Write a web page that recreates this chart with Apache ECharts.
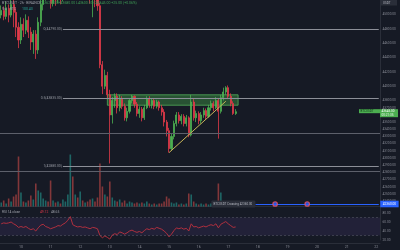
<!DOCTYPE html>
<html><head><meta charset="utf-8">
<script src="https://cdn.jsdelivr.net/npm/echarts@6/dist/echarts.min.js"></script>
<style>html,body{margin:0;padding:0;background:#161a25;}#c{width:400px;height:250px;}</style>
</head><body><div id="c"></div><script>
// ---- data ----
const dayLabels = ['10','11','12','13','14','15','16','17','18','19','20','21','22'];
const priceTicks = { min: 42300, max: 45200, step: 100 };
// [open, close, low, high]
const ohlc = [
[44990,45055,44945,45124],[45055,44972,44918,45110],[44972,45083,44931,45180],[45083,44990,44890,45138],
[44990,45138,44959,45235],[45138,45028,44821,45205],[45028,44821,44684,45096],[44821,44643,44530,44890],
[44643,44862,44588,44959],[44862,44780,44684,44945],[44780,44918,44725,45000],[44918,44753,44670,44972],
[44753,44615,44505,44821],[44615,44725,44450,44780],[44725,44505,44380,44780],[44505,44890,44450,44959],
[44890,45138,44835,45300],[45138,45275,45055,45370],[45275,45370,45190,45467],[45370,45300,45220,45420],
[45300,45150,45080,45340],[45150,45230,45110,45280],[45230,45200,45120,45290],[45200,45260,45150,45310],
[45260,45220,45140,45300],[45220,45300,45180,45350],[45300,45380,45260,45420],[45380,45520,45350,45580],
[45520,45750,45480,45850],[45750,45450,45380,45800],[45450,45500,45400,45560],[45500,45420,45360,45540],
[45420,45460,45380,45500],[45460,45400,45350,45490],[45400,45440,45330,45480],[45440,45380,45320,45470],
[45380,45300,45150,45400],[45300,45330,44960,45380],[45330,45250,45100,45350],[45250,45120,45050,45300],
[45120,44300,44250,45160],[44300,44000,43890,44350],[44000,44150,43960,44230],[44150,43880,43820,44200],
[43880,43600,42924,43950],[43600,43800,43480,43850],[43800,43860,43700,43900],[43860,43700,43620,43900],
[43700,43830,43650,43880],[43830,43720,43680,43860],[43720,43560,43520,43760],[43560,43650,43510,43700],
[43650,43800,43620,43830],[43800,43860,43760,43880],[43860,43750,43700,43870],[43750,43620,43580,43780],
[43620,43680,43560,43720],[43680,43560,43510,43710],[43560,43700,43530,43740],[43700,43820,43680,43860],
[43820,43740,43700,43860],[43740,43800,43690,43830],[43800,43720,43680,43830],[43720,43780,43690,43810],
[43780,43700,43660,43800],[43700,43640,43590,43740],[43640,43500,43440,43680],[43500,43380,43300,43530],
[43380,43130,43075,43420],[43130,43300,43100,43340],[43300,43480,43260,43520],[43480,43600,43440,43640],
[43600,43520,43480,43640],[43520,43580,43470,43610],[43580,43480,43440,43610],[43480,43560,43440,43600],
[43560,43320,43290,43580],[43320,43780,43300,43880],[43780,43560,43520,43830],[43560,43620,43500,43660],
[43620,43520,43470,43650],[43520,43600,43480,43640],[43600,43660,43560,43700],[43660,43580,43540,43690],
[43580,43700,43560,43740],[43700,43760,43660,43800],[43760,43700,43650,43790],[43700,43800,43680,43850],
[43800,43650,43270,43830],[43650,43840,43620,43880],[43840,43920,43800,43980],[43920,43980,43880,44000],
[43980,43860,43820,44010],[43860,43760,43720,43900],[43760,43620,43600,43790],[43620,43645,43600,43680]
];
const volumes = [
200,300,150,400,250,500,600,2500,700,250,200,300,550,350,1150,800,
700,400,300,250,1300,300,200,250,150,350,250,600,2600,1500,600,450,
750,300,200,250,350,400,250,450,2150,1000,600,500,1250,450,300,250,
350,200,300,150,250,200,150,200,150,200,150,250,150,100,150,100,
150,150,250,500,400,200,150,200,100,150,100,150,650,600,250,150,
100,150,100,150,100,150,100,200,1150,700,200,150,150,100,150,100
];
const rsi = [
56,58,57,58,60,56,53,48,50,48,50,46,43,45,40,47,
53,55,50,48,45,47,49,52,51,55,58,64,72,54,51,49,
50,48,49,47,45,48,47,45,30,25,29,26,22,31,34,32,
38,36,33,36,40,42,39,37,39,36,41,45,43,46,44,48,
46,44,40,35,27,33,41,47,45,47,44,46,40,56,49,50,
47,49,51,49,52,54,52,56,47,55,58,61,56,52,48,49
];
const fibLevels = [ {name:'0', price:44790}, {name:'0.5', price:43835}, {name:'1', price:42880} ];
const fibStartSlot = 25;
const hLines = [43350, 42810];
const zone = { fromSlot:43, toSlot:96, top:43880, bottom:43735 };
const trend = { fromSlot:68, fromPrice:43075, toSlot:91, toPrice:43790 };
const alertPrice = 42360, alertStartSlot = 103, alertSlots = [99,111,124];
const rsiBand = [70, 30];
const rsiLabels = [20,40,60,80];

// ---- categories (2h slots) ----
const N_SLOTS = 154, FIRST_DAY_SLOT = 8, SLOTS_PER_DAY = 12;
const categories = [];
for (let i=0;i<N_SLOTS;i++){
  const h=(i-FIRST_DAY_SLOT)*2; const d=Math.floor(h/24); const hh=((h%24)+24)%24;
  categories.push((d>=0?dayLabels[d]:'9')+' '+String(hh).padStart(2,'0')+':00');
}
const UP='#4caf50', DOWN='#e03a49', AX='#2a2e39', TXT='#868993';
const F='Roboto';
const chart = echarts.init(document.getElementById('c'), null, {renderer:'canvas'});
const lastIdx = ohlc.length-1;
const volData = volumes.map((v,i)=>({value:v,itemStyle:{color: ohlc[i][1]>=ohlc[i][0]?'rgba(38,166,154,0.55)':'rgba(239,83,80,0.5)'}}));

const fibLines = fibLevels.map(f=>[
  {coord:[categories[fibStartSlot], f.price], lineStyle:{color:'#8c8f98',width:1,type:'solid'},
   label:{show:true,position:'start',distance:1,formatter:f.name+'('+f.price.toFixed(2)+')',color:'#9598a1',fontSize:3.4,fontFamily:F}},
  {coord:[categories[N_SLOTS-1], f.price]}
]);
const option = {
  animation:false,
  backgroundColor:'#161a25',
  grid:[
    {left:0,right:20,top:-2.5,height:210.8},
    {left:0,right:20,top:140,height:66.5},
    {left:0,right:20,top:208.5,height:31.5}
  ],
  xAxis:[
    {type:'category',gridIndex:0,data:categories,boundaryGap:true,axisLine:{show:false},axisTick:{show:false},axisLabel:{show:false},splitLine:{show:false}},
    {type:'category',gridIndex:1,data:categories,boundaryGap:true,axisLine:{show:true,lineStyle:{color:AX}},axisTick:{show:false},axisLabel:{show:false}},
    {type:'category',gridIndex:2,data:categories,boundaryGap:true,offset:3,axisLine:{show:true,lineStyle:{color:AX}},axisTick:{show:false},
     axisLabel:{show:true,color:TXT,fontSize:3.6,fontFamily:F,margin:2.5,
       interval:(idx)=>idx>=FIRST_DAY_SLOT && (idx-FIRST_DAY_SLOT)%SLOTS_PER_DAY===0,
       formatter:(v)=>v.split(' ')[0]}}
  ],
  yAxis:[
    {type:'value',gridIndex:0,position:'right',min:priceTicks.min,max:priceTicks.max,interval:priceTicks.step,
     splitLine:{show:false},axisTick:{show:false},axisLine:{show:true,lineStyle:{color:AX}},
     axisLabel:{color:TXT,fontSize:3.2,fontFamily:F,margin:2.5,
       formatter:(v)=>{ if(v>=44999+200||v<=priceTicks.min) return ''; if(v>43800 && v%200!==0) return ''; return v.toFixed(2);} }},
    {type:'value',gridIndex:1,min:0,max:3325,show:false},
    {type:'value',gridIndex:2,position:'right',min:20,max:90,interval:10,splitLine:{show:false},axisTick:{show:false},
     axisLine:{show:true,lineStyle:{color:AX}},
     axisLabel:{color:TXT,fontSize:3.2,fontFamily:F,margin:2.5,formatter:(v)=>rsiLabels.includes(v)?v.toFixed(2):''}}
  ],
  series:[
    {type:'candlestick',xAxisIndex:0,yAxisIndex:0,data:ohlc,barWidth:1.6,z:3,clip:true,
     itemStyle:{color:UP,color0:DOWN,borderColor:UP,borderColor0:DOWN,borderWidth:0.8},
     markArea:{silent:true,data:[[
       {coord:[categories[zone.fromSlot],zone.top],itemStyle:{color:'rgba(67,160,71,0.42)',borderColor:'rgba(90,190,95,0.7)',borderWidth:1}},
       {coord:[categories[zone.toSlot],zone.bottom]}]]},
     markLine:{silent:true,symbol:['none','none'],animation:false,
       data:[
         ...fibLines,
         ...hLines.map(p=>({yAxis:p,lineStyle:{color:'#5d606b',width:1,type:'solid'},label:{show:false}})),
         [{coord:[categories[trend.fromSlot],trend.fromPrice],lineStyle:{color:'#c8b55a',width:1,type:'solid'},label:{show:false}},
          {coord:[categories[trend.toSlot],trend.toPrice]}],
         [{coord:[categories[alertStartSlot],alertPrice],lineStyle:{color:'#2962ff',width:1,type:'solid'},
           label:{show:true,position:'end',distance:1.5,formatter:alertPrice.toFixed(2),color:'#fff',backgroundColor:'#2962ff',fontSize:3.2,fontFamily:F,padding:[1.8,2.5]}},
          {coord:[categories[N_SLOTS-1],alertPrice]}]
       ]}},
    {type:'bar',xAxisIndex:1,yAxisIndex:1,data:volData,barWidth:1.6,z:1},
    {type:'line',xAxisIndex:2,yAxisIndex:2,data:rsi,symbol:'none',lineStyle:{color:'#b0303f',width:1},z:3,
     markArea:{silent:true,data:[[{yAxis:rsiBand[0],itemStyle:{color:'rgba(126,87,194,0.12)'}},{yAxis:rsiBand[1]}]]},
     markLine:{silent:true,symbol:['none','none'],label:{show:false},lineStyle:{color:'#787b86',type:[2,2],width:0.6,opacity:0.6},
       data:rsiBand.map(v=>({yAxis:v}))}},
    {type:'scatter',xAxisIndex:0,yAxisIndex:0,data:alertSlots.map(s=>[categories[s],alertPrice]),symbolSize:4.5,z:6,
     itemStyle:{color:'#2962ff',borderColor:'#f7525f',borderWidth:1.2}}
  ]
};
chart.setOption(option);

const lastClose = ohlc[lastIdx][1];
const lp = chart.convertToPixel({seriesIndex:0},[categories[lastIdx], lastClose]);
const ap = chart.convertToPixel({seriesIndex:0},[categories[alertStartSlot], alertPrice]);
const tiny = (x,y,text,fill,size)=>({type:'text',x:x,y:y,z:20,style:{text:text,fill:fill,font:(size||3.5)+'px '+F,textVerticalAlign:'middle'}});
chart.setOption({graphic:[
  tiny(2,3,'BTCUSDT · 2h · BINANCE  ','#9ea1aa'),
  tiny(40,3,'O43620.00 H43680.00 L43600.00 C43645.00 +25.00 (+0.06%)','#3f9d56'),
  tiny(2,9,'Vol · BTC','#9ea1aa'),
  tiny(22,9,'100.43','#26a69a'),
  tiny(2,212,'RSI 14 close','#9ea1aa',3.3),
  tiny(40,212,'49.12','#e0394a',3.3),
  tiny(51,212,'48.65','#9ea1aa',3.3),
  {type:'rect',z:20,shape:{x:381,y:0,width:16,height:5.5},style:{fill:'#2a2e39'}},
  tiny(383,2.8,'USDT','#b2b5be',3),
  {type:'rect',z:20,shape:{x:380,y:lp[1]-2.5,width:18,height:8},style:{fill:UP}},
  tiny(381.5,lp[1]-0.5,lastClose.toFixed(2),'#ffffff',3.1),
  tiny(381.5,lp[1]+3.2,'00:21:35','#e8f5e9',3.1),
  {type:'rect',z:20,shape:{x:359,y:lp[1]-2.5,width:21,height:4},style:{fill:UP}},
  tiny(360.5,lp[1]-0.5,'BTCUSDT','#10361a',3),
  {type:'rect',z:19,shape:{x:ap[0]-44,y:ap[1]-3.5,width:44,height:7,r:1},style:{fill:'#2a2e39'}},
  tiny(ap[0]-42,ap[1],'BTCUSDT Crossing '+alertPrice.toFixed(2),'#b2b5be',3)
]});
</script></body></html>
